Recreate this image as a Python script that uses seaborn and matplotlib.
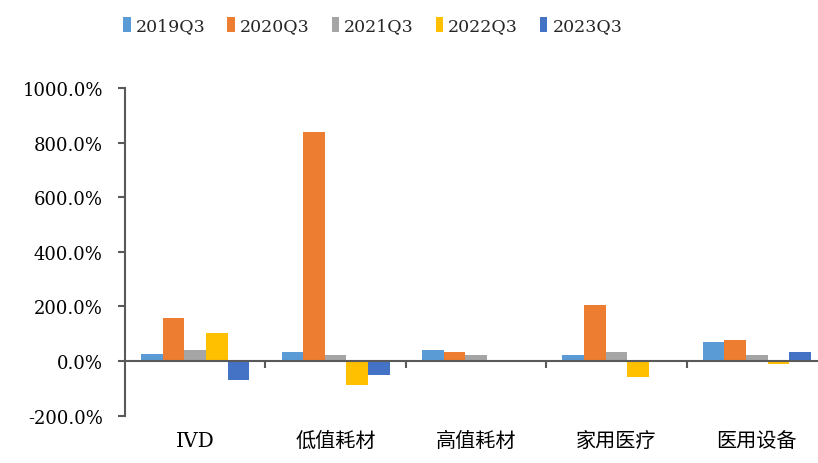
"""
Growth by segment, Q3 of each year - bar chart
"""

import numpy as np
import pandas as pd
import matplotlib
matplotlib.use('Agg')
import matplotlib.pyplot as plt
from matplotlib.ticker import FuncFormatter, FixedLocator
import seaborn as sns

# %% data (percent)
categories = ['IVD', '低值耗材', '高值耗材', '家用医疗', '医用设备']
periods = ['2019Q3', '2020Q3', '2021Q3', '2022Q3', '2023Q3']
v2019 = [27, 33, 39, 21, 70]
v2020 = [157, 839, 33, 205, 76]
v2021 = [39, 21, 21, 34, 21]
v2022 = [102, -88, np.nan, -57, -12]
v2023 = [-69, -52, np.nan, np.nan, 34]
colors = ['#5B9BD5', '#ED7D31', '#A5A5A5', '#FFC000', '#4472C4']

wide = pd.DataFrame({'category': categories, '2019Q3': v2019, '2020Q3': v2020,
                     '2021Q3': v2021, '2022Q3': v2022, '2023Q3': v2023})
df = wide.melt(id_vars='category', var_name='period', value_name='growth')

# %% plot
sns.set_style('white')
plt.rcParams['font.family'] = ['DejaVu Serif', 'Noto Sans CJK SC']

fig = plt.figure(figsize=(8.18, 4.64), dpi=100)
ax = fig.add_axes([125 / 818, 1 - 416.7 / 464, 702 / 818, (416.7 - 89) / 464])

sns.barplot(data=df, x='category', y='growth', hue='period', order=categories,
            hue_order=periods, palette=colors, width=0.77, ax=ax,
            saturation=1, linewidth=0)

axis_col = '#595959'
ax.set_ylim(-200, 1000)
ax.set_xlim(-0.5, 4.5)
ax.yaxis.set_major_locator(FixedLocator(np.arange(-200, 1001, 200)))
ax.yaxis.set_major_formatter(FuncFormatter(lambda v, p: f'{v:.1f}%'))

for s in ['top', 'right']:
    ax.spines[s].set_visible(False)
ax.spines['bottom'].set_position(('data', 0))
for s in ['left', 'bottom']:
    ax.spines[s].set_color(axis_col)
    ax.spines[s].set_linewidth(1.5)

ax.set_xticks(range(len(categories)))
ax.set_xticklabels(categories)
ax.xaxis.set_minor_locator(FixedLocator([0.5, 1.5, 2.5, 3.5, 4.5]))
ax.tick_params(axis='x', which='major', length=0, pad=50, labelsize=14.5,
               labelcolor='black')
ax.tick_params(axis='x', which='minor', direction='out', length=5, width=1.5,
               color=axis_col, bottom=True)
ax.tick_params(axis='y', direction='out', length=5, width=1.5, color=axis_col,
               pad=11, labelsize=13, labelcolor='black', left=True)
ax.set_xlabel('')
ax.set_ylabel('')

ax.legend(loc='center', bbox_to_anchor=(0.353, 1.19), ncol=5, frameon=False,
          fontsize=12.5, handlelength=0.42, handleheight=1.0, handletextpad=0.3,
          columnspacing=1.26, borderaxespad=0)

fig.savefig('out.png', dpi=100)
